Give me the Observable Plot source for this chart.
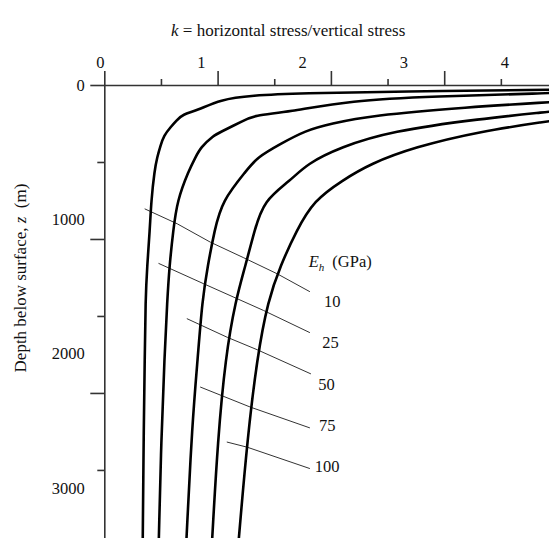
<!DOCTYPE html>
<html>
<head>
<meta charset="utf-8">
<script src="https://cdn.jsdelivr.net/npm/d3@7"></script>
<script src="https://cdn.jsdelivr.net/npm/@observablehq/plot@0.6"></script>
<style>
  html, body { margin: 0; padding: 0; background: #fff; }
</style>
</head>
<body>
<div id="chart"></div>
<script>
// ---- data ----
const ehValues = [10, 25, 50, 75, 100];   // E_h (GPa)

// each curve: [k, depth z (m)], shallow → deep
const curveEh10 = [[4.02,26],[3.93,28],[2.61,39],[1.73,50],[1.29,65],[1.02,91],[0.816,162],[0.686,188],[0.633,227],[0.580,271],[0.521,325],[0.492,390],[0.462,466],[0.439,552],[0.410,747],[0.397,942],[0.374,1169],[0.359,1396],[0.353,1764],[0.344,2197],[0.335,2942]];
const curveEh25 = [[4.02,45],[3.93,50],[2.90,71],[2.17,97],[1.61,173],[1.315,195],[1.227,227],[1.021,303],[0.959,325],[0.845,403],[0.801,466],[0.741,552],[0.639,747],[0.604,942],[0.571,1169],[0.551,1396],[0.527,1764],[0.498,2305],[0.477,2942]];
const curveEh50 = [[4.02,104],[3.93,108],[3.20,141],[2.345,195],[1.992,249],[1.771,292],[1.551,379],[1.345,466],[1.251,552],[1.036,747],[0.968,942],[0.909,1169],[0.860,1396],[0.821,1764],[0.771,2197],[0.721,2942]];
const curveEh75 = [[4.02,162],[3.93,170],[3.316,216],[2.522,297],[2.080,401],[1.786,508],[1.639,617],[1.403,747],[1.321,942],[1.242,1169],[1.154,1396],[1.065,1764],[0.997,2305],[0.948,2942]];
const curveEh100 = [[4.02,221],[3.93,231],[3.316,297],[2.727,401],[2.345,508],[2.095,617],[1.845,747],[1.692,942],[1.551,1169],[1.440,1396],[1.345,1764],[1.257,2305],[1.183,2942]];

// leader lines from each curve to its label: [k, z]
const leaderEh10 = [[0.355,802],[0.639,898],[0.933,1018],[1.227,1119],[1.522,1223],[1.807,1338]];
const leaderEh25 = [[0.477,1156],[0.874,1288],[1.139,1375],[1.401,1461],[1.807,1604]];
const leaderEh50 = [[0.727,1515],[1.080,1635],[1.345,1716],[1.816,1872]];
const leaderEh75 = [[0.845,1959],[1.286,2089],[1.807,2223]];
const leaderEh100 = [[1.080,2316],[1.257,2349],[1.807,2487]];

// label anchors (data units)
const ehLabelK = [2.007, 1.992, 1.957, 1.963, 1.963];
const ehLabelZ = [1407, 1673, 1942, 2208, 2474];
const ehHeader = [{k: 1.80, z: 1147, text: "Eh (GPa)"}];

// axes
const xMajorTicks = [0, 1, 2, 3];
const xMinorTicks = [0.5, 1.5, 2.5, 3.5];
const yMajorTicks = [0, 1000, 2000];
const yMinorTicks = [500, 1500, 2500];
const xTickLabels = [0, 1, 2, 3, 4];
const yTickLabels = [0, 1000, 2000, 3000];
const xDomain = [0, 3.925];
const yDomain = [0, 2942];

const titleText = "k = horizontal stress/vertical stress";
const yTitleText = "Depth below surface, z (m)";

// ---- build tables ----
const curveSeries = [curveEh10, curveEh25, curveEh50, curveEh75, curveEh100];
const leaderSeries = [leaderEh10, leaderEh25, leaderEh50, leaderEh75, leaderEh100];
const curveRows = ehValues.flatMap((eh, i) => curveSeries[i].map(([k, z]) => ({eh, k, z})));
const leaderRows = ehValues.flatMap((eh, i) => leaderSeries[i].map(([k, z]) => ({eh, k, z})));
const labelRows = ehValues.map((eh, i) => ({eh, k: ehLabelK[i], z: ehLabelZ[i]}));

// the printed tick labels in the source sit on a slightly compressed grid
const xLabelShrink = 0.893, xLabelShift = -0.04;
const yLabelShrink = 0.872;

const axisColor = "#333";
const font = "'Liberation Serif', 'Times New Roman', serif";

const svg = Plot.plot({
  width: 549,
  height: 538,
  marginTop: 85,
  marginLeft: 104.3,
  marginRight: 0,
  marginBottom: 0,
  x: {domain: xDomain, axis: null},
  y: {domain: yDomain, reverse: true, axis: null},
  style: {fontFamily: font, fontSize: "16px", color: "#111", background: "#fff"},
  marks: [
    Plot.axisX(xMajorTicks, {anchor: "top", tickSize: 15, tickFormat: () => "", label: null, color: axisColor, strokeWidth: 1.6}),
    Plot.axisX(xMinorTicks, {anchor: "top", tickSize: 7, tickFormat: () => "", label: null, color: axisColor, strokeWidth: 1.6}),
    Plot.axisY(yMajorTicks, {anchor: "left", tickSize: 14, tickFormat: () => "", label: null, color: axisColor, strokeWidth: 1.6}),
    Plot.axisY(yMinorTicks, {anchor: "left", tickSize: 7, tickFormat: () => "", label: null, color: axisColor, strokeWidth: 1.6}),
    Plot.ruleY([0], {stroke: axisColor, strokeWidth: 1.6}),
    Plot.ruleX([0], {stroke: axisColor, strokeWidth: 1.6}),
    Plot.text(xTickLabels, {x: d => d * xLabelShrink + xLabelShift, text: d => String(d), frameAnchor: "top", dy: -29, fontSize: 16.5, fill: "#111"}),
    Plot.text(yTickLabels, {y: d => d * yLabelShrink, text: d => String(d), frameAnchor: "left", dx: -20, textAnchor: "end", fontSize: 16.5, fill: "#111"}),
    Plot.text([titleText], {frameAnchor: "top", dx: -39, dy: -62, fontSize: 17, fill: "#111"}),
    Plot.text([yTitleText], {frameAnchor: "left", textAnchor: "middle", rotate: -90, dx: -84, dy: -34, fontSize: 17, fill: "#111"}),
    Plot.line(leaderRows, {x: "k", y: "z", z: "eh", stroke: "#333", strokeWidth: 1}),
    Plot.line(curveRows, {x: "k", y: "z", z: "eh", stroke: "#000", strokeWidth: 2.6, curve: "basis", clip: true}),
    Plot.text(labelRows, {x: "k", y: "z", text: d => String(d.eh), fontSize: 16.5, fill: "#111"}),
    Plot.text(ehHeader, {x: "k", y: "z", text: "text", textAnchor: "start", fontSize: 16.5, fill: "#111"})
  ]
});

document.getElementById("chart").appendChild(svg);

// rich text (italics / subscript)
function richText(match, parts) {
  d3.select(svg).selectAll("text")
    .filter(function () { return this.textContent === match; })
    .each(function () {
      const t = d3.select(this);
      t.text("").style("white-space", "pre");
      parts.forEach(p => {
        const s = t.append("tspan").text(p.text);
        if (p.italic) s.attr("font-style", "italic");
        if (p.size) s.attr("font-size", p.size);
        if (p.dx) s.attr("dx", p.dx);
        if (p.dy) s.attr("dy", p.dy);
      });
    });
}
richText(titleText, [{text: "k", italic: true}, {text: " = horizontal stress/vertical stress"}]);
richText(yTitleText, [{text: "Depth below surface, "}, {text: "z", italic: true}, {text: "  (m)"}]);
richText("Eh (GPa)", [{text: "E", italic: true}, {text: "h", italic: true, size: 11, dy: 4}, {text: "(GPa)", dx: 8, dy: -4}]);
</script>
</body>
</html>
